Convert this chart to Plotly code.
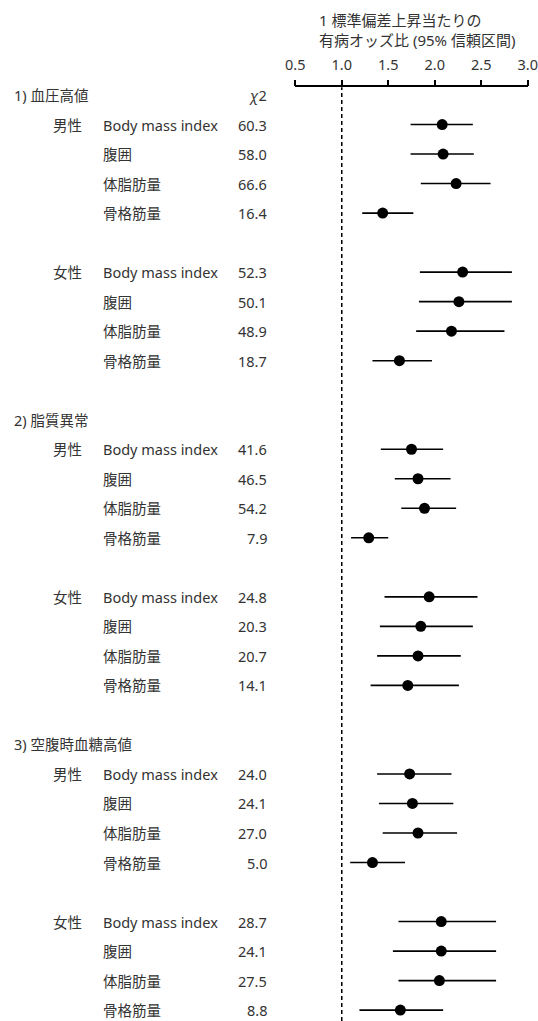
import plotly.graph_objects as go

W, H = 538, 1021

groups = ["1) 血圧高値", "2) 脂質異常", "3) 空腹時血糖高値"]
sexes = ["男性", "女性"]
measures = ["Body mass index", "腹囲", "体脂肪量", "骨格筋量"]

chi2 = [60.3, 58.0, 66.6, 16.4, 52.3, 50.1, 48.9, 18.7,
        41.6, 46.5, 54.2, 7.9, 24.8, 20.3, 20.7, 14.1,
        24.0, 24.1, 27.0, 5.0, 28.7, 24.1, 27.5, 8.8]
or_est = [2.08, 2.09, 2.23, 1.44, 2.30, 2.26, 2.18, 1.62,
          1.75, 1.82, 1.89, 1.29, 1.94, 1.85, 1.82, 1.71,
          1.73, 1.76, 1.82, 1.33, 2.07, 2.07, 2.05, 1.63]
ci_lo = [1.74, 1.74, 1.85, 1.22, 1.84, 1.83, 1.80, 1.33,
         1.42, 1.57, 1.64, 1.10, 1.46, 1.41, 1.38, 1.31,
         1.38, 1.40, 1.44, 1.09, 1.61, 1.55, 1.61, 1.19]
ci_hi = [2.41, 2.42, 2.60, 1.77, 2.83, 2.83, 2.75, 1.97,
         2.09, 2.17, 2.23, 1.50, 2.46, 2.41, 2.28, 2.26,
         2.18, 2.20, 2.24, 1.68, 2.66, 2.66, 2.66, 2.09]

tick_vals = [0.5, 1.0, 1.5, 2.0, 2.5, 3.0]
tick_text = ["0.5", "1.0", "1.5", "2.0", "2.5", "3.0"]
title_text = "1 標準偏差上昇当たりの<br>有病オッズ比 (95% 信頼区間)"
chi_header = "<i>χ</i>2"

FONT = "Noto Sans, Noto Sans CJK JP, sans-serif"
TXT = "#333333"

# layout rows
row_y, row_label, row_chi = [], [], []
header_rows, sex_rows = [], []
i = 0
for g in range(len(groups)):
    base = g * 11
    header_rows.append(base)
    for s in range(len(sexes)):
        sb = base + 1 + s * 5
        sex_rows.append(sb)
        for m in range(len(measures)):
            row_y.append(sb + m)
            row_label.append(measures[m])
            row_chi.append(chi2[i])
            i += 1

def px(x):
    return x / W

x0_px, x1_px = 295.3, 527.7
axis_top_px = 87.3
row0_px, row_step = 95.0, 29.52
y_top = (axis_top_px - row0_px) / row_step
y_bot = (H - row0_px) / row_step
dom_top = (H - axis_top_px) / H

fig = go.Figure()
fig.add_trace(go.Scatter(
    x=or_est, y=row_y, mode="markers",
    marker=dict(size=11, color="black"),
    error_x=dict(type="data", symmetric=False,
                 array=[h - o for h, o in zip(ci_hi, or_est)],
                 arrayminus=[o - l for o, l in zip(or_est, ci_lo)],
                 thickness=1.6, width=0, color="black"),
    hoverinfo="skip", showlegend=False,
))

fig.add_shape(type="line", xref="x", yref="paper", x0=1.0, x1=1.0,
              y0=0, y1=dom_top, line=dict(color="black", width=1.5, dash="4px,3px"))

ann = []
for g, r in zip(groups, header_rows):
    ann.append(dict(x=px(12), y=r, xref="paper", yref="y", text=g,
                    xanchor="left", yanchor="middle", showarrow=False))
for k, r in enumerate(sex_rows):
    ann.append(dict(x=px(51), y=r, xref="paper", yref="y", text=sexes[k % 2],
                    xanchor="left", yanchor="middle", showarrow=False))
for lab, r, c in zip(row_label, row_y, row_chi):
    ann.append(dict(x=px(101), y=r, xref="paper", yref="y", text=lab,
                    xanchor="left", yanchor="middle", showarrow=False))
    ann.append(dict(x=px(269), y=r, xref="paper", yref="y", text=f"{c:.1f}",
                    xanchor="right", yanchor="middle", showarrow=False))
ann.append(dict(x=px(269), y=header_rows[0], xref="paper", yref="y", text=chi_header,
                xanchor="right", yanchor="middle", showarrow=False))
ann.append(dict(x=px(317), y=1 - 30 / H, xref="paper", yref="paper", text=title_text,
                xanchor="left", yanchor="middle", align="left", showarrow=False,
                font=dict(size=15, color=TXT, family=FONT)))

fig.update_layout(
    width=W, height=H,
    margin=dict(l=0, r=0, t=0, b=0, autoexpand=False),
    paper_bgcolor="white", plot_bgcolor="white",
    font=dict(family=FONT, size=14.5, color=TXT),
    annotations=ann,
    xaxis=dict(domain=[px(x0_px), px(x1_px)], range=[0.5, 3.0], side="top",
               tickvals=tick_vals, ticktext=tick_text, ticks="outside",
               ticklen=6, tickwidth=1.5, tickcolor="black",
               showline=True, linecolor="black", linewidth=1.5,
               showgrid=False, zeroline=False, tickfont=dict(size=14.5, color=TXT),
               ticklabelstandoff=4, automargin=False, fixedrange=True),
    yaxis=dict(domain=[0, dom_top], range=[y_bot, y_top], visible=False,
               automargin=False, fixedrange=True),
    hovermode=False,
)

fig.write_html("out.html", config={"displayModeBar": False})
